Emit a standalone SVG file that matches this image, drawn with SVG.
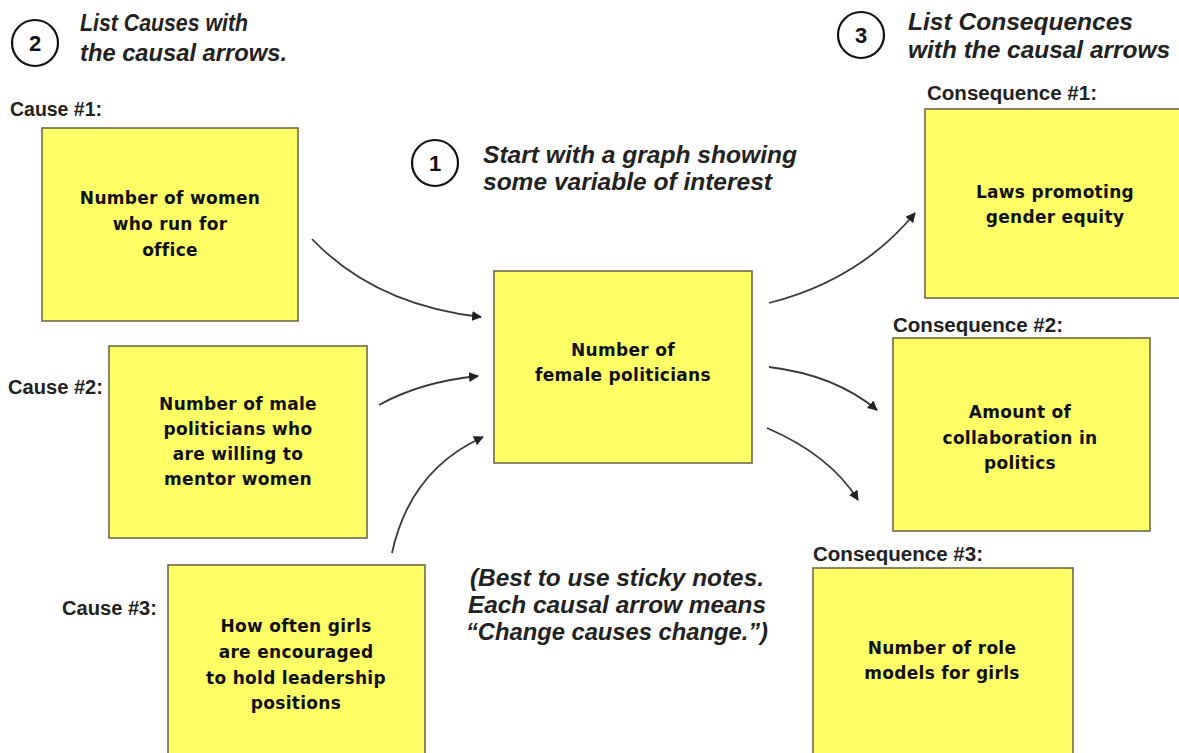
<svg xmlns="http://www.w3.org/2000/svg" width="1179" height="753" viewBox="0 0 1179 753">
<defs>
<marker id="ah" viewBox="0 0 10 10" refX="9" refY="5" markerWidth="10" markerHeight="10" markerUnits="userSpaceOnUse" orient="auto">
<path d="M0,0 L10,5 L0,10 z" fill="#222"/>
</marker>
<style>
.note{fill:#FFFF66;stroke:#6e6a4a;stroke-width:1.6}
.nt{font-family:"DejaVu Sans","Liberation Sans",sans-serif;font-weight:bold;font-size:17px;letter-spacing:0.3px;fill:#111;text-anchor:middle}
.lbl{font-family:"Liberation Sans",Arial,sans-serif;font-weight:bold;font-size:20px;fill:#222}
.hd{font-family:"Liberation Sans",Arial,sans-serif;font-weight:bold;font-style:italic;font-size:24px;fill:#222}
.num{font-family:"Liberation Sans",Arial,sans-serif;font-weight:bold;font-size:22px;fill:#111;text-anchor:middle}
.circ{fill:#fff;stroke:#111;stroke-width:2.2}
.arr{fill:none;stroke:#3a3a3a;stroke-width:1.8;marker-end:url(#ah)}
</style>
</defs>
<rect width="1179" height="753" fill="#fff"/>

<g id="step2">
<circle class="circ" cx="35" cy="43" r="23"/>
<text class="num" x="35" y="51">2</text>
<text class="hd" x="80" y="31" font-size="23" textLength="168" lengthAdjust="spacingAndGlyphs">List Causes with</text>
<text class="hd" x="80" y="61" font-size="23" textLength="207" lengthAdjust="spacingAndGlyphs">the causal arrows.</text>
</g>
<g id="step3">
<circle class="circ" cx="861" cy="35" r="23"/>
<text class="num" x="861" y="43">3</text>
<text class="hd" x="908" y="30" textLength="225" lengthAdjust="spacingAndGlyphs">List Consequences</text>
<text class="hd" x="908" y="58" textLength="262" lengthAdjust="spacingAndGlyphs">with the causal arrows</text>
</g>
<g id="step1">
<circle class="circ" cx="435" cy="163" r="23"/>
<text class="num" x="435" y="171">1</text>
<text class="hd" x="483" y="163" textLength="314" lengthAdjust="spacingAndGlyphs">Start with a graph showing</text>
<text class="hd" x="483" y="190" textLength="289" lengthAdjust="spacingAndGlyphs">some variable of interest</text>
</g>

<g id="cause1">
<text class="lbl" x="10" y="116" textLength="92" lengthAdjust="spacingAndGlyphs">Cause #1:</text>
<rect class="note" x="42" y="128" width="256" height="193"/>
<text class="nt" x="170" y="204">Number of women</text>
<text class="nt" x="170" y="230">who run for</text>
<text class="nt" x="170" y="256">office</text>
</g>
<g id="cause2">
<text class="lbl" x="8" y="394" textLength="95" lengthAdjust="spacingAndGlyphs">Cause #2:</text>
<rect class="note" x="109" y="346" width="258" height="192"/>
<text class="nt" x="238" y="410">Number of male</text>
<text class="nt" x="238" y="435">politicians who</text>
<text class="nt" x="238" y="460">are willing to</text>
<text class="nt" x="238" y="485">mentor women</text>
</g>
<g id="cause3">
<text class="lbl" x="62" y="615" textLength="95" lengthAdjust="spacingAndGlyphs">Cause #3:</text>
<rect class="note" x="168" y="565" width="257" height="200"/>
<text class="nt" x="296" y="632">How often girls</text>
<text class="nt" x="296" y="658">are encouraged</text>
<text class="nt" x="296" y="684">to hold leadership</text>
<text class="nt" x="296" y="709">positions</text>
</g>
<g id="central">
<rect class="note" x="494" y="271" width="258" height="192"/>
<text class="nt" x="623" y="356">Number of</text>
<text class="nt" x="623" y="381">female politicians</text>
</g>
<g id="cons1">
<text class="lbl" x="927" y="100" textLength="170" lengthAdjust="spacingAndGlyphs">Consequence #1:</text>
<rect class="note" x="925" y="109" width="262" height="189"/>
<text class="nt" x="1055" y="198">Laws promoting</text>
<text class="nt" x="1055" y="223">gender equity</text>
</g>
<g id="cons2">
<text class="lbl" x="893" y="332" textLength="170" lengthAdjust="spacingAndGlyphs">Consequence #2:</text>
<rect class="note" x="893" y="338" width="257" height="193"/>
<text class="nt" x="1020" y="418">Amount of</text>
<text class="nt" x="1020" y="444">collaboration in</text>
<text class="nt" x="1020" y="469">politics</text>
</g>
<g id="cons3">
<text class="lbl" x="813" y="561" textLength="170" lengthAdjust="spacingAndGlyphs">Consequence #3:</text>
<rect class="note" x="813" y="568" width="260" height="200"/>
<text class="nt" x="942" y="654">Number of role</text>
<text class="nt" x="942" y="679">models for girls</text>
</g>

<g id="note">
<text class="hd" x="470" y="586" textLength="294" lengthAdjust="spacingAndGlyphs">(Best to use sticky notes.</text>
<text class="hd" x="468" y="613" textLength="298" lengthAdjust="spacingAndGlyphs">Each causal arrow means</text>
<text class="hd" x="466" y="640" textLength="302" lengthAdjust="spacingAndGlyphs">“Change causes change.”)</text>
</g>

<g id="connectors">
<path class="arr" d="M312,239 Q375,305 481,317"/>
<path class="arr" d="M379,405 Q420,382 478,376"/>
<path class="arr" d="M392,553 Q410,470 483,437"/>
<path class="arr" d="M769,303 Q860,280 915,213"/>
<path class="arr" d="M769,367 Q835,375 877,410"/>
<path class="arr" d="M767,428 Q830,455 858,500"/>
</g>
</svg>
